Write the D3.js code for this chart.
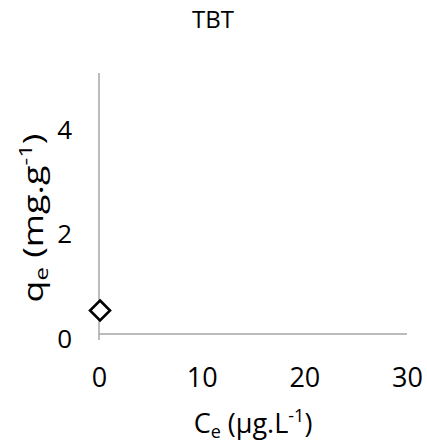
<!DOCTYPE html>
<html>
<head>
<meta charset="utf-8">
<script src="https://cdn.jsdelivr.net/npm/d3@7"></script>
<style>
  html, body { margin: 0; padding: 0; background: #fff; }
  text { font-family: "Open Sans", sans-serif; fill: #000; }
</style>
</head>
<body>
<div id="chart"></div>
<script>
const title = "TBT";
const ceValues = [0.1];
const qeValues = [0.45];
const xTicks = [0, 10, 20, 30];
const yTicks = [0, 2, 4];
const xDomain = [0, 30];
const yDomain = [0, 5];

const W = 427, H = 445;
const svg = d3.select("#chart").append("svg").attr("width", W).attr("height", H);

const x = d3.scaleLinear().domain(xDomain).range([99, 407]);
const y = d3.scaleLinear().domain(yDomain).range([334, 73]);

const axisColor = "#a6a6a6";

// x axis
const xAxis = d3.axisBottom(x).tickValues(xTicks).tickSize(0).tickPadding(0).tickFormat(d3.format("d"));
const gx = svg.append("g").attr("transform", `translate(0,${y(0)})`).call(xAxis);
gx.select(".domain").attr("stroke", axisColor).attr("stroke-width", 1.5).attr("d", `M${x(0)},0H${x(30)}`);
gx.selectAll(".tick text").attr("font-size", 27).attr("font-family", "Open Sans").attr("fill", "#000")
  .attr("dy", null).attr("y", 53);

// y axis
const yAxis = d3.axisLeft(y).tickValues(yTicks).tickSize(0).tickPadding(0).tickFormat(d3.format("d"));
const gy = svg.append("g").attr("transform", `translate(${x(0)},0)`).call(yAxis);
gy.select(".domain").attr("stroke", axisColor).attr("stroke-width", 1.5).attr("d", `M0,${y(5)}V${y(0) + 6}`);
gy.selectAll(".tick text").attr("font-size", 26).attr("font-family", "Open Sans").attr("fill", "#000")
  .attr("x", -27).attr("dy", "0.5em");

// data points
const pts = ceValues.map((c, i) => ({ c, q: qeValues[i] }));
svg.append("g").selectAll("path").data(pts).join("path")
  .attr("transform", d => `translate(${x(d.c)},${y(d.q)})`)
  .attr("d", "M0,-10L10,0L0,10L-10,0Z")
  .attr("fill", "#fff").attr("stroke", "#000").attr("stroke-width", 2.6);

// title
svg.append("text").attr("x", 213).attr("y", 28).attr("text-anchor", "middle")
  .attr("font-size", 24).text(title);

// x title
const xt = svg.append("text").attr("x", (x(0) + x(30)) / 2).attr("y", 433).attr("text-anchor", "middle").attr("font-size", 27);
xt.append("tspan").text("C");
xt.append("tspan").attr("font-size", 18).attr("dy", 5).text("e");
xt.append("tspan").attr("dy", -5).text(" (µg.L");
xt.append("tspan").attr("font-size", 18).attr("dy", -11).text("-1");
xt.append("tspan").attr("dy", 11).text(")");

// y title
const yt = svg.append("text").attr("transform", `translate(43,218) rotate(-90) scale(1.33,1)`).attr("text-anchor", "middle").attr("font-size", 27);
yt.append("tspan").text("q");
yt.append("tspan").attr("font-size", 18).attr("dy", 5).text("e");
yt.append("tspan").attr("dy", -5).text(" (mg.g");
yt.append("tspan").attr("font-size", 18).attr("dy", -11).text("-1");
yt.append("tspan").attr("dy", 11).text(")");
</script>
</body>
</html>
